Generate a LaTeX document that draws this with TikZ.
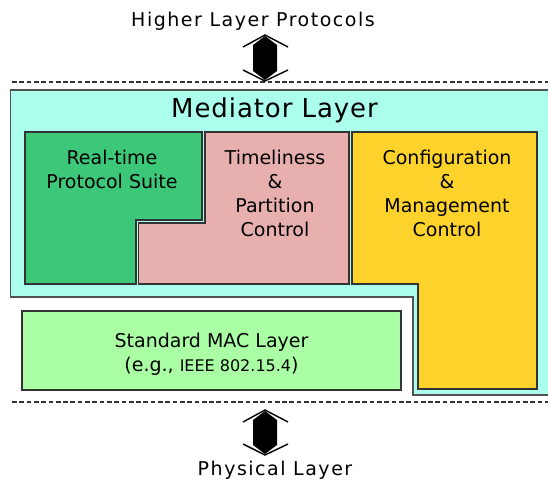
\documentclass[tikz,border=0pt]{standalone}
\usepackage{fontspec}
\setmainfont{DejaVu Sans}
\newfontfamily\trackfont[LetterSpace=8]{DejaVu Sans}
\newfontfamily\medfont[LetterSpace=3.5]{DejaVu Sans}
\definecolor{cyanbg}{HTML}{ABFDEC}
\definecolor{rtgreen}{HTML}{3CC878}
\definecolor{tpink}{HTML}{E8AFAF}
\definecolor{cyellow}{HTML}{FDD32B}
\definecolor{macgreen}{HTML}{AAFFA4}
\definecolor{edge}{HTML}{333333}
\tikzset{
  blk/.style={draw=edge, line width=1.3pt},
  lbl/.style={anchor=base, align=center, inner sep=0pt, font=\fontsize{19}{24}\selectfont},
  outer/.style={anchor=base, inner sep=0pt, font=\trackfont\fontsize{19}{22}\selectfont},
  sep/.style={draw=edge, line width=1.4pt, dash pattern=on 4.7pt off 2.6pt},
  wing/.style={draw=black, line width=1.4pt},
}
\newcommand{\bigarrow}[2]{%
  \fill[black] ($(#1)+(0,1)$) -- ($(#1)+(12,10)$) -- ($(#2)+(12,-10)$) -- ($(#2)+(0,-1)$)
     -- ($(#2)+(-12,-10)$) -- ($(#1)+(-12,10)$) -- cycle;
  \draw[wing] ($(#1)+(-22,12)$) -- (#1) -- ($(#1)+(23,12)$);
  \draw[wing] ($(#2)+(-22,-11)$) -- (#2) -- ($(#2)+(23,-11)$);
}
\usetikzlibrary{calc}
\begin{document}
\begin{tikzpicture}[x=1pt,y=-1pt]
\useasboundingbox (0,0) rectangle (548,481);
% dashed separators
\draw[sep] (12,82) -- (548,82);
\draw[sep] (12,402) -- (548,402);
% mediator layer
\fill[cyanbg] (10.5,90) -- (550,90) -- (550,395) -- (413,395) -- (413,297) -- (10.5,297) -- cycle;
\draw[draw=edge!85, line width=1.5pt] (550,90) -- (10.5,90) -- (10.5,297) -- (413,297) -- (413,395) -- (550,395);
% blocks
\filldraw[blk, fill=rtgreen] (25,132) -- (202,132) -- (202,220) -- (136,220) -- (136,284) -- (25,284) -- cycle;
\filldraw[blk, fill=tpink] (205,132) -- (349,132) -- (349,284) -- (138.5,284) -- (138.5,223) -- (205,223) -- cycle;
\filldraw[blk, fill=cyellow] (352,132) -- (537,132) -- (537,389) -- (418,389) -- (418,284) -- (352,284) -- cycle;
\filldraw[blk, fill=macgreen] (22,311) rectangle (401,390);
% texts (multi-line nodes: base = last line's baseline)
\node[outer] (hlp) at (253,27) {Higher Layer Protocols};
\node[outer] (phy) at (275,475) {Physical Layer};
\node[anchor=base, inner sep=0pt, font=\medfont\fontsize{26}{30}\selectfont] (med) at (274.5,118) {Mediator Layer};
\node[lbl] (rt) at (112,188) {Real-time\\Protocol Suite};
\node[lbl] (tp) at (275,236) {Timeliness\\\&\\Partition\\Control};
\node[lbl] (cm) at (447,236) {Configuration\\\&\\Management\\Control};
\node[lbl] (mac) at (211.5,371) {Standard MAC Layer\\(e.g., {\fontsize{16}{24}\selectfont IEEE 802.15.4})};
% arrows
\coordinate (a1t) at (265,35);
\coordinate (a1b) at (265,81);
\coordinate (a2t) at (265,410);
\coordinate (a2b) at (265,455);
\bigarrow{a1t}{a1b}
\bigarrow{a2t}{a2b}
\end{tikzpicture}
\end{document}
